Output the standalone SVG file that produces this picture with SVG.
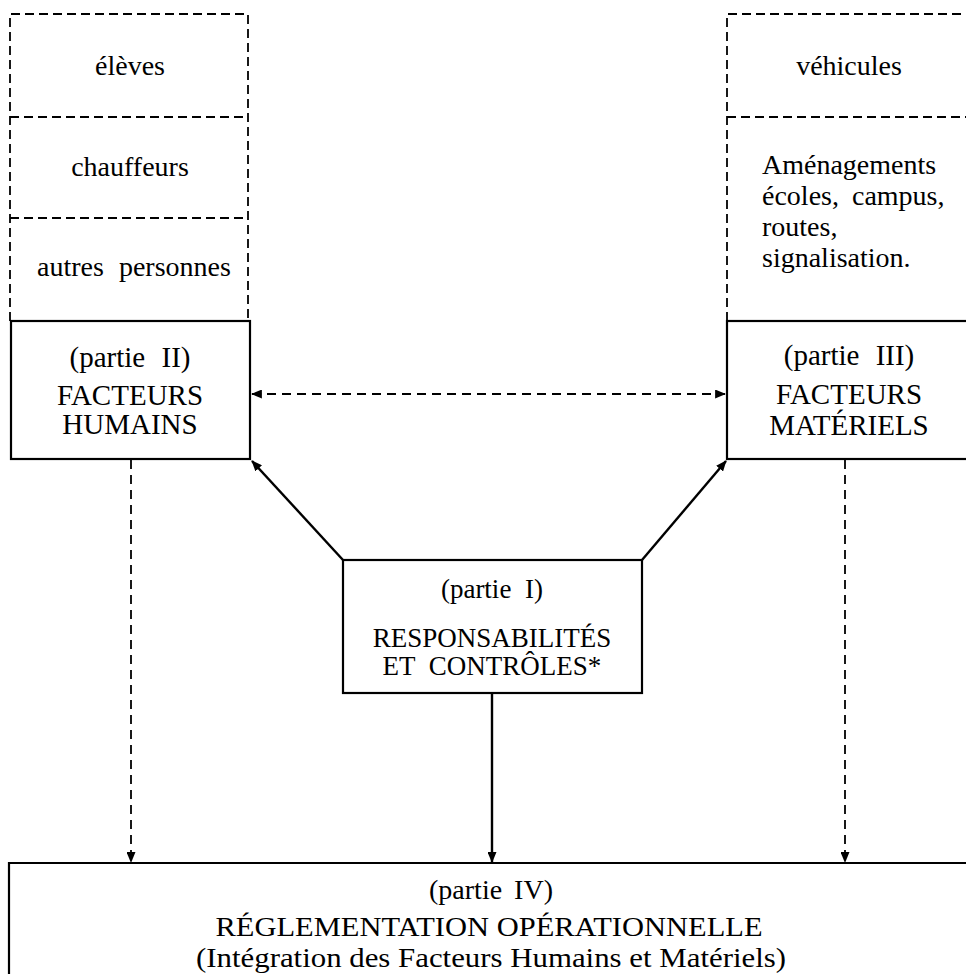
<svg xmlns="http://www.w3.org/2000/svg" width="966" height="974" viewBox="0 0 966 974">
<style>
text{font-family:"Liberation Serif","Times New Roman",serif;fill:#000;}
.t28{font-size:28px;}
.t29{font-size:29px;}
.t27{font-size:27px;}
.c{text-anchor:middle;}
.box{fill:none;stroke:#000;stroke-width:2.2;}
.dbox{fill:none;stroke:#000;stroke-width:1.8;stroke-dasharray:9 5;}
.solid{fill:none;stroke:#000;stroke-width:2.4;}
.dash{fill:none;stroke:#000;stroke-width:1.8;stroke-dasharray:9 6;}
</style>
<defs>
<marker id="ah" viewBox="0 0 12 10" refX="11" refY="5" markerWidth="11" markerHeight="9" markerUnits="userSpaceOnUse" orient="auto-start-reverse">
<path d="M0,0 L12,5 L0,10 Z" fill="#000"/>
</marker>
</defs>
<rect width="966" height="974" fill="#fff"/>

<g id="humains-detail">
<path class="dbox" d="M10,321 L10,14 L248,14 L248,321"/>
<line class="dbox" x1="10" y1="117" x2="248" y2="117"/>
<line class="dbox" x1="10" y1="218" x2="248" y2="218"/>
<text class="t28 c" x="130" y="75">élèves</text>
<text class="t28 c" x="130" y="176">chauffeurs</text>
<text class="t28 c" x="134" y="276" word-spacing="8">autres personnes</text>
</g>

<g id="materiels-detail">
<path class="dbox" d="M727,321 L727,14 L970,14"/>
<line class="dbox" x1="727" y1="117" x2="970" y2="117"/>
<text class="t28 c" x="849" y="75">véhicules</text>
<text class="t28" x="762" y="174">Aménagements</text>
<text class="t28" x="762" y="205" word-spacing="6">écoles, campus,</text>
<text class="t28" x="762" y="236">routes,</text>
<text class="t28" x="762" y="267">signalisation.</text>
</g>

<g id="partie2">
<rect class="box" x="11" y="321" width="239" height="138"/>
<text class="t29 c" x="130" y="367" word-spacing="9">(partie II)</text>
<text class="t29 c" x="130" y="405">FACTEURS</text>
<text class="t29 c" x="130" y="434">HUMAINS</text>
</g>

<g id="partie3">
<rect class="box" x="727" y="321" width="250" height="138"/>
<text class="t29 c" x="849" y="365" word-spacing="9">(partie III)</text>
<text class="t29 c" x="849" y="404">FACTEURS</text>
<text class="t29 c" x="849" y="435">MATÉRIELS</text>
</g>

<g id="partie1">
<rect class="box" x="343" y="560" width="299" height="133"/>
<text class="t27 c" x="492" y="598" word-spacing="7">(partie I)</text>
<text class="t27 c" x="492" y="647">RESPONSABILITÉS</text>
<text class="t27 c" x="492" y="675" word-spacing="7">ET CONTRÔLES*</text>
</g>

<g id="partie4">
<path class="box" d="M9,980 L9,863 L975,863"/>
<text class="t28 c" x="491" y="899" word-spacing="5">(partie IV)</text>
<text class="t28 c" x="489" y="936" textLength="547" lengthAdjust="spacingAndGlyphs">RÉGLEMENTATION OPÉRATIONNELLE</text>
<text class="t28 c" x="491" y="967" textLength="590" lengthAdjust="spacingAndGlyphs">(Intégration des Facteurs Humains et Matériels)</text>
</g>

<g id="connectors">
<line class="dash" x1="252" y1="394" x2="725" y2="394" marker-start="url(#ah)" marker-end="url(#ah)"/>
<line class="solid" x1="343" y1="560" x2="252" y2="461" marker-end="url(#ah)"/>
<line class="solid" x1="642" y1="560" x2="726" y2="461" marker-end="url(#ah)"/>
<line class="solid" x1="492" y1="693" x2="492" y2="862" marker-end="url(#ah)"/>
<line class="dash" x1="131" y1="460" x2="131" y2="862" marker-end="url(#ah)"/>
<line class="dash" x1="845" y1="460" x2="845" y2="862" marker-end="url(#ah)"/>
</g>
</svg>
